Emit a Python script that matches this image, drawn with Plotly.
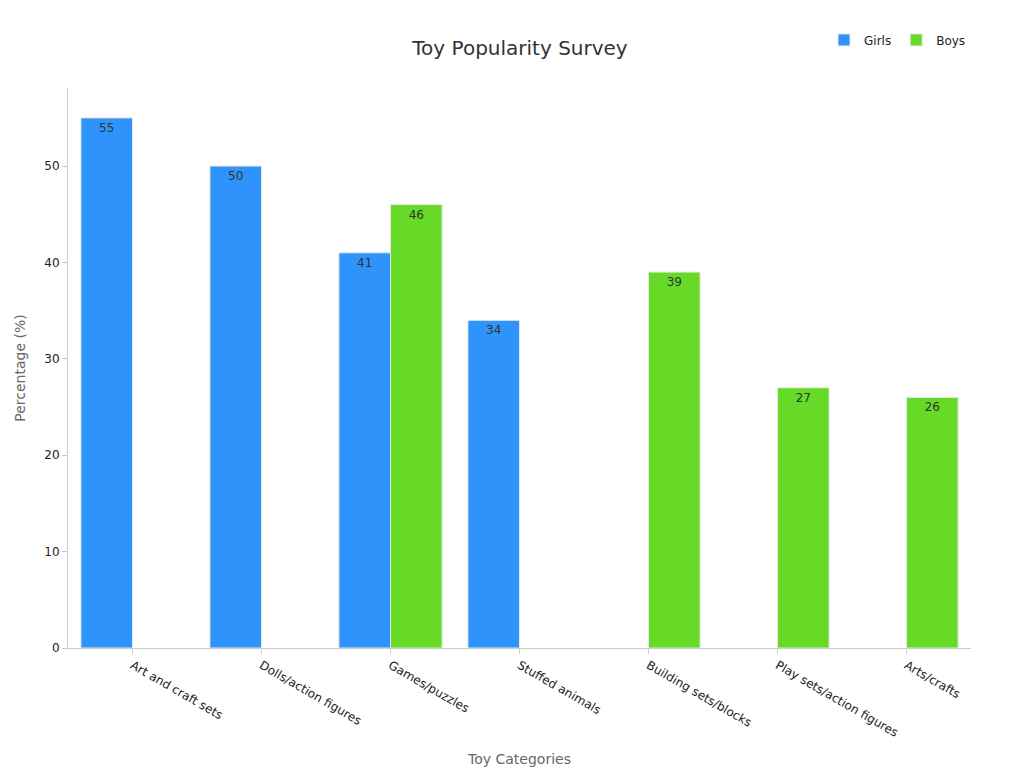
import plotly.graph_objects as go

categories = ["Art and craft sets", "Dolls/action figures", "Games/puzzles", "Stuffed animals",
              "Building sets/blocks", "Play sets/action figures", "Arts/crafts"]
girls = [55, 50, 41, 34, None, None, None]
boys = [None, None, 46, None, 39, 27, 26]

fig = go.Figure()
for name, vals, color in [("Girls", girls, "#2E93FA"), ("Boys", boys, "#66DA26")]:
    fig.add_trace(go.Bar(
        name=name, x=categories, y=vals, marker_color=color,
        marker_line=dict(color="#e8e8e8", width=1),
        text=[str(v) if v is not None else "" for v in vals],
        textposition="inside", insidetextanchor="end",
        textfont=dict(color="#333", size=12),
    ))

fig.update_layout(
    title=dict(text="Toy Popularity Survey", x=0.5, y=0.957, font=dict(size=20, color="#333")),
    barmode="group", bargap=0.2, bargroupgap=0,
    width=1024, height=768,
    margin=dict(l=60, r=61, t=80, b=128),
    plot_bgcolor="white", paper_bgcolor="white",
    font=dict(family="DejaVu Sans", size=12, color="#222"),
    legend=dict(orientation="h", x=1, xanchor="right", y=1.06, yanchor="bottom", font=dict(size=12)),
    uniformtext=dict(mode="show", minsize=12),
)
fig.update_xaxes(title=dict(text="Toy Categories", font=dict(size=14, color="#666")),
                 tickangle=30, showline=True, linecolor="#ccc", ticks="outside", tickcolor="#ccc")
fig.update_yaxes(title=dict(text="Percentage (%)", font=dict(size=14, color="#666")),
                 range=[0, 58.1], dtick=10, showgrid=False, showline=True, linecolor="#ccc",
                 ticks="outside", tickcolor="#ccc", zeroline=False)

fig.write_html("out.html")
